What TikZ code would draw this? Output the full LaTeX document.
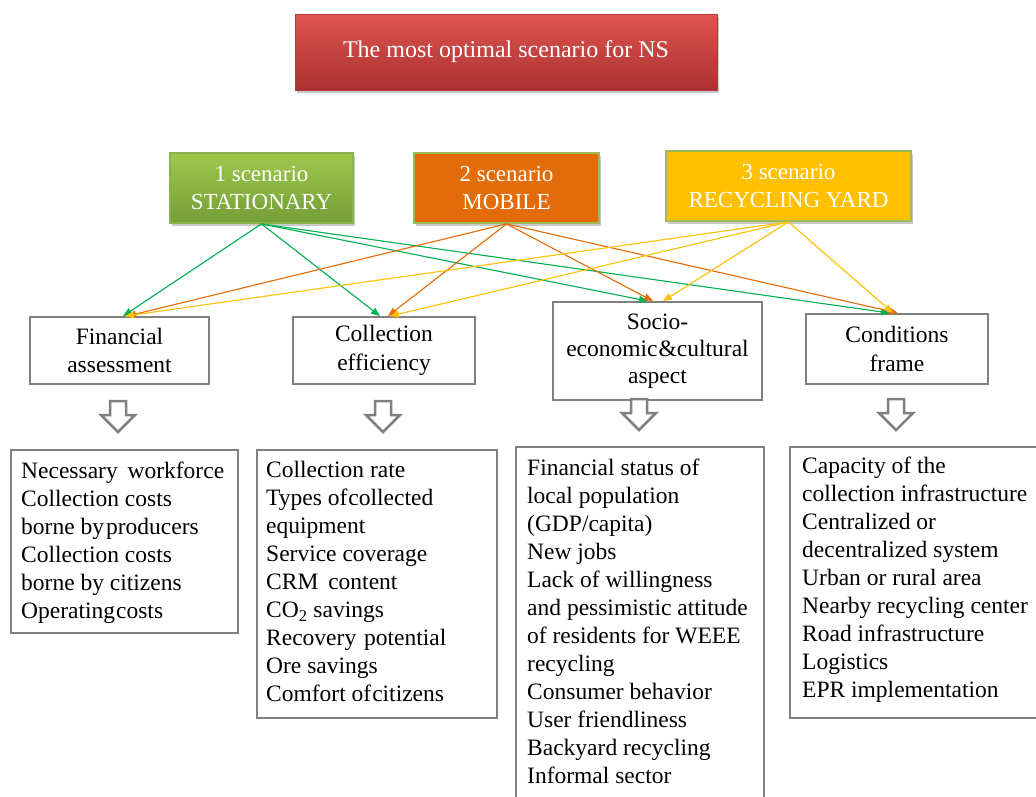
\documentclass[tikz,border=0pt]{standalone}
\usepackage{fontspec}
\setmainfont{Liberation Serif}
\newfontfamily\tnr{Liberation Serif}
\usetikzlibrary{arrows.meta,shadows}
\definecolor{titletop}{RGB}{222,84,80}
\definecolor{titlebot}{RGB}{170,50,48}
\definecolor{titleborder}{RGB}{185,58,55}
\definecolor{sonetop}{RGB}{158,200,76}
\definecolor{sonebot}{RGB}{116,158,56}
\definecolor{soneborder}{RGB}{140,178,78}
\definecolor{stwofill}{RGB}{227,108,10}
\definecolor{sthreefill}{RGB}{255,192,0}
\definecolor{sborder}{RGB}{155,187,89}
\definecolor{garrowc}{RGB}{0,176,80}
\definecolor{oarrowc}{RGB}{228,108,10}
\definecolor{yarrowc}{RGB}{255,192,0}
\definecolor{boxgray}{RGB}{128,128,128}
\tikzset{
  shadowed/.style={drop shadow={shadow xshift=2pt,shadow yshift=-3pt,opacity=0.35,fill=black!60}},
  scenbox/.style={shadowed,draw=sborder,line width=1.8pt,align=center,text=white,inner sep=0pt,
    font=\tnr\fontsize{23}{28}\selectfont},
  critbox/.style={draw=boxgray,line width=1.8pt,fill=white,align=center,inner sep=0pt,
    font=\tnr\fontsize{23.5}{28.5}\selectfont},
  listbox/.style={draw=boxgray,line width=1.8pt,fill=white,inner sep=0pt,anchor=north west},
  listtext/.style={align=left,inner sep=0pt,anchor=north west,font=\tnr\fontsize{23.5}{28}\selectfont},
  link/.style={line width=1.1pt,-{Triangle[length=9pt,width=7pt]}},
  glink/.style={link,draw=garrowc,fill=garrowc},
  olink/.style={link,draw=oarrowc,fill=oarrowc},
  ylink/.style={link,draw=yarrowc,fill=yarrowc},
  hollowarrow/.pic={\draw[draw=boxgray,line width=2.5pt,fill=white,line join=miter]
    (-8,0) -- (8,0) -- (8,14) -- (17,14) -- (0,31) -- (-17,14) -- (-8,14) -- cycle;}
}
\begin{document}
\begin{tikzpicture}[x=1pt,y=-1pt]
\useasboundingbox[fill=white] (0,0) rectangle (1036,796);

% title
\node[shadowed,draw=titleborder,line width=1pt,top color=titletop,bottom color=titlebot,
  minimum width=422pt,minimum height=76pt,text=white,font=\tnr\fontsize{24}{28}\selectfont]
  (title) at (506,52) {The most optimal scenario for NS};

% scenarios
\node[scenbox,draw=soneborder,top color=sonetop,bottom color=sonebot,minimum width=183pt,minimum height=70pt]
  (s1) at (261.5,188) {1 scenario\\STATIONARY};
\node[scenbox,fill=stwofill,minimum width=185pt,minimum height=70pt]
  (s2) at (506.5,188) {2 scenario\\MOBILE};
\node[scenbox,fill=sthreefill,minimum width=245pt,minimum height=70pt]
  (s3) at (788.5,186) {3 scenario\\RECYCLING YARD};

% criteria
\node[critbox,minimum width=179pt,minimum height=67pt] (fin) at (119.5,350.5) {Financial\\assessment};
\node[critbox,minimum width=182pt,minimum height=67pt] (col) at (384,350.5) {Collection\\efficiency};
\node[critbox,minimum width=209pt,minimum height=98pt,font=\tnr\fontsize{23.5}{27}\selectfont]
  (soc) at (657.5,351) {Socio-\\economic\kern1pt\&cultural\\aspect};
\node[critbox,minimum width=182pt,minimum height=70pt] (cond) at (897,349) {Conditions\\frame};

% links
\draw[glink] (s1.south) -- ([xshift=3.5pt]fin.north);
\draw[glink] (s1.south) -- ([xshift=-4pt]col.north);
\draw[glink] (s1.south) -- ([xshift=-9.5pt]soc.north);
\draw[glink] (s1.south) -- ([xshift=-7pt]cond.north);
\draw[olink] (s2.south) -- ([xshift=7.5pt]fin.north);
\draw[olink] (s2.south) -- ([xshift=4pt]col.north);
\draw[olink] (s2.south) -- ([xshift=-4.5pt]soc.north);
\draw[olink] (s2.south) -- ([xshift=1pt]cond.north);
\draw[ylink] (s3.south) -- ([xshift=5.5pt]fin.north);
\draw[ylink] (s3.south) -- ([xshift=6pt]col.north);
\draw[ylink] (s3.south) -- ([xshift=5.5pt]soc.north);
\draw[ylink] (s3.south) -- ([xshift=-4pt]cond.north);

% hollow arrows
\pic at (118,401) {hollowarrow};
\pic at (383,401) {hollowarrow};
\pic at (639,399) {hollowarrow};
\pic at (896,399) {hollowarrow};

% lists
\node[listbox,minimum width=227pt,minimum height=183pt] (l1) at (10,449) {};
\node[listtext] (t1) at (21,462) {Necessary\hspace{4pt} workforce\\Collection costs\\borne by\kern2pt producers\\Collection costs\\borne by citizens\\Operating\kern1pt costs};

\node[listbox,minimum width=240pt,minimum height=268pt] (l2) at (256,449) {};
\node[listtext] (t2) at (266,461) {Collection rate\\Types of\kern1pt collected\\equipment\\Service coverage\\CRM\hspace{4pt} content\\CO\textsubscript{2} savings\\Recovery\hspace{2pt} potential\\Ore savings\\Comfort of\kern1pt citizens};

\node[listbox,minimum width=248pt,minimum height=370pt] (l3) at (515,446) {};
\node[listtext] (t3) at (527,459) {Financial status of\\local population\\(GDP/capita)\\New jobs\\Lack of willingness\\and pessimistic attitude\\of residents for WEEE\\recycling\\Consumer behavior\\User friendliness\\Backyard recycling\\Informal sector};

\node[listbox,minimum width=260pt,minimum height=271pt] (l4) at (789,446) {};
\node[listtext] (t4) at (802,457) {Capacity of the\\collection infrastructure\\Centralized or\\decentralized system\\Urban or rural area\\Nearby recycling center\\Road infrastructure\\Logistics\\EPR implementation};
\end{tikzpicture}
\end{document}
